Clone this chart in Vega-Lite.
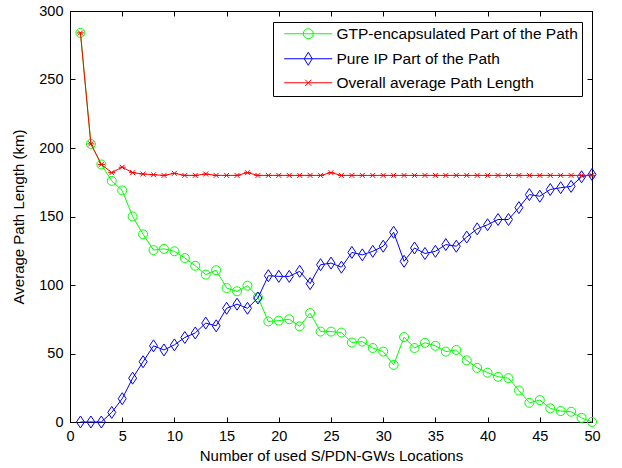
{
  "$schema": "https://vega.github.io/schema/vega-lite/v6.json",
  "width": 522,
  "height": 411,
  "autosize": {"type": "none"},
  "padding": {"left": 70, "top": 11, "right": 30, "bottom": 46},
  "background": "white",
  "config": {
    "view": {"stroke": "black", "strokeWidth": 1},
    "font": "Liberation Sans",
    "axis": {
      "grid": false, "domainColor": "black", "tickColor": "black", "labelColor": "black", "titleColor": "black",
      "labelFontSize": 14.5, "titleFontSize": 15, "titleFontWeight": "normal", "tickSize": -5, "labelPadding": 12,
      "labelFont": "Liberation Sans", "titleFont": "Liberation Sans", "labelFlush": false
    }
  },
  "datasets": {
    "d": [
      {"x":1,"s":"GTP-encapsulated Part of the Path","v":284},
      {"x":2,"s":"GTP-encapsulated Part of the Path","v":203},
      {"x":3,"s":"GTP-encapsulated Part of the Path","v":188},
      {"x":4,"s":"GTP-encapsulated Part of the Path","v":176},
      {"x":5,"s":"GTP-encapsulated Part of the Path","v":169},
      {"x":6,"s":"GTP-encapsulated Part of the Path","v":150},
      {"x":7,"s":"GTP-encapsulated Part of the Path","v":137},
      {"x":8,"s":"GTP-encapsulated Part of the Path","v":125.5},
      {"x":9,"s":"GTP-encapsulated Part of the Path","v":126.4},
      {"x":10,"s":"GTP-encapsulated Part of the Path","v":124.6},
      {"x":11,"s":"GTP-encapsulated Part of the Path","v":119.7},
      {"x":12,"s":"GTP-encapsulated Part of the Path","v":114},
      {"x":13,"s":"GTP-encapsulated Part of the Path","v":107.6},
      {"x":14,"s":"GTP-encapsulated Part of the Path","v":110.8},
      {"x":15,"s":"GTP-encapsulated Part of the Path","v":97.8},
      {"x":16,"s":"GTP-encapsulated Part of the Path","v":95.4},
      {"x":17,"s":"GTP-encapsulated Part of the Path","v":99.5},
      {"x":18,"s":"GTP-encapsulated Part of the Path","v":91},
      {"x":19,"s":"GTP-encapsulated Part of the Path","v":73.4},
      {"x":20,"s":"GTP-encapsulated Part of the Path","v":74},
      {"x":21,"s":"GTP-encapsulated Part of the Path","v":75},
      {"x":22,"s":"GTP-encapsulated Part of the Path","v":69.8},
      {"x":23,"s":"GTP-encapsulated Part of the Path","v":79.5},
      {"x":24,"s":"GTP-encapsulated Part of the Path","v":66},
      {"x":25,"s":"GTP-encapsulated Part of the Path","v":66},
      {"x":26,"s":"GTP-encapsulated Part of the Path","v":65.3},
      {"x":27,"s":"GTP-encapsulated Part of the Path","v":58},
      {"x":28,"s":"GTP-encapsulated Part of the Path","v":58.7},
      {"x":29,"s":"GTP-encapsulated Part of the Path","v":54},
      {"x":30,"s":"GTP-encapsulated Part of the Path","v":51.4},
      {"x":31,"s":"GTP-encapsulated Part of the Path","v":41.7},
      {"x":32,"s":"GTP-encapsulated Part of the Path","v":62},
      {"x":33,"s":"GTP-encapsulated Part of the Path","v":54},
      {"x":34,"s":"GTP-encapsulated Part of the Path","v":57.8},
      {"x":35,"s":"GTP-encapsulated Part of the Path","v":55.6},
      {"x":36,"s":"GTP-encapsulated Part of the Path","v":51.4},
      {"x":37,"s":"GTP-encapsulated Part of the Path","v":52.6},
      {"x":38,"s":"GTP-encapsulated Part of the Path","v":45},
      {"x":39,"s":"GTP-encapsulated Part of the Path","v":39.5},
      {"x":40,"s":"GTP-encapsulated Part of the Path","v":36},
      {"x":41,"s":"GTP-encapsulated Part of the Path","v":33},
      {"x":42,"s":"GTP-encapsulated Part of the Path","v":32},
      {"x":43,"s":"GTP-encapsulated Part of the Path","v":23},
      {"x":44,"s":"GTP-encapsulated Part of the Path","v":14},
      {"x":45,"s":"GTP-encapsulated Part of the Path","v":16},
      {"x":46,"s":"GTP-encapsulated Part of the Path","v":10},
      {"x":47,"s":"GTP-encapsulated Part of the Path","v":8},
      {"x":48,"s":"GTP-encapsulated Part of the Path","v":7.5},
      {"x":49,"s":"GTP-encapsulated Part of the Path","v":3},
      {"x":50,"s":"GTP-encapsulated Part of the Path","v":0},
      {"x":1,"s":"Pure IP Part of the Path","v":0},
      {"x":2,"s":"Pure IP Part of the Path","v":0},
      {"x":3,"s":"Pure IP Part of the Path","v":0},
      {"x":4,"s":"Pure IP Part of the Path","v":7},
      {"x":5,"s":"Pure IP Part of the Path","v":17},
      {"x":6,"s":"Pure IP Part of the Path","v":32},
      {"x":7,"s":"Pure IP Part of the Path","v":44},
      {"x":8,"s":"Pure IP Part of the Path","v":55.6},
      {"x":9,"s":"Pure IP Part of the Path","v":52.6},
      {"x":10,"s":"Pure IP Part of the Path","v":56.3},
      {"x":11,"s":"Pure IP Part of the Path","v":61.7},
      {"x":12,"s":"Pure IP Part of the Path","v":65},
      {"x":13,"s":"Pure IP Part of the Path","v":72.2},
      {"x":14,"s":"Pure IP Part of the Path","v":70.2},
      {"x":15,"s":"Pure IP Part of the Path","v":83},
      {"x":16,"s":"Pure IP Part of the Path","v":86},
      {"x":17,"s":"Pure IP Part of the Path","v":83},
      {"x":18,"s":"Pure IP Part of the Path","v":90.5},
      {"x":19,"s":"Pure IP Part of the Path","v":106.8},
      {"x":20,"s":"Pure IP Part of the Path","v":106.3},
      {"x":21,"s":"Pure IP Part of the Path","v":106.3},
      {"x":22,"s":"Pure IP Part of the Path","v":110},
      {"x":23,"s":"Pure IP Part of the Path","v":101},
      {"x":24,"s":"Pure IP Part of the Path","v":114.8},
      {"x":25,"s":"Pure IP Part of the Path","v":116},
      {"x":26,"s":"Pure IP Part of the Path","v":113},
      {"x":27,"s":"Pure IP Part of the Path","v":123.8},
      {"x":28,"s":"Pure IP Part of the Path","v":122},
      {"x":29,"s":"Pure IP Part of the Path","v":124.6},
      {"x":30,"s":"Pure IP Part of the Path","v":128.3},
      {"x":31,"s":"Pure IP Part of the Path","v":138.5},
      {"x":32,"s":"Pure IP Part of the Path","v":117.3},
      {"x":33,"s":"Pure IP Part of the Path","v":127},
      {"x":34,"s":"Pure IP Part of the Path","v":123},
      {"x":35,"s":"Pure IP Part of the Path","v":124.6},
      {"x":36,"s":"Pure IP Part of the Path","v":129.5},
      {"x":37,"s":"Pure IP Part of the Path","v":128.3},
      {"x":38,"s":"Pure IP Part of the Path","v":135},
      {"x":39,"s":"Pure IP Part of the Path","v":141},
      {"x":40,"s":"Pure IP Part of the Path","v":144},
      {"x":41,"s":"Pure IP Part of the Path","v":147.8},
      {"x":42,"s":"Pure IP Part of the Path","v":147.8},
      {"x":43,"s":"Pure IP Part of the Path","v":156.5},
      {"x":44,"s":"Pure IP Part of the Path","v":166},
      {"x":45,"s":"Pure IP Part of the Path","v":164.8},
      {"x":46,"s":"Pure IP Part of the Path","v":169.7},
      {"x":47,"s":"Pure IP Part of the Path","v":171},
      {"x":48,"s":"Pure IP Part of the Path","v":172},
      {"x":49,"s":"Pure IP Part of the Path","v":179},
      {"x":50,"s":"Pure IP Part of the Path","v":180.7},
      {"x":1,"s":"Overall average Path Length","v":284},
      {"x":2,"s":"Overall average Path Length","v":203},
      {"x":3,"s":"Overall average Path Length","v":188},
      {"x":4,"s":"Overall average Path Length","v":182},
      {"x":5,"s":"Overall average Path Length","v":186},
      {"x":6,"s":"Overall average Path Length","v":182},
      {"x":7,"s":"Overall average Path Length","v":181},
      {"x":8,"s":"Overall average Path Length","v":180.5},
      {"x":9,"s":"Overall average Path Length","v":180},
      {"x":10,"s":"Overall average Path Length","v":181.5},
      {"x":11,"s":"Overall average Path Length","v":180},
      {"x":12,"s":"Overall average Path Length","v":180},
      {"x":13,"s":"Overall average Path Length","v":181},
      {"x":14,"s":"Overall average Path Length","v":180},
      {"x":15,"s":"Overall average Path Length","v":180},
      {"x":16,"s":"Overall average Path Length","v":180},
      {"x":17,"s":"Overall average Path Length","v":182},
      {"x":18,"s":"Overall average Path Length","v":180},
      {"x":19,"s":"Overall average Path Length","v":180},
      {"x":20,"s":"Overall average Path Length","v":180},
      {"x":21,"s":"Overall average Path Length","v":180},
      {"x":22,"s":"Overall average Path Length","v":180},
      {"x":23,"s":"Overall average Path Length","v":180},
      {"x":24,"s":"Overall average Path Length","v":180},
      {"x":25,"s":"Overall average Path Length","v":182},
      {"x":26,"s":"Overall average Path Length","v":180},
      {"x":27,"s":"Overall average Path Length","v":180},
      {"x":28,"s":"Overall average Path Length","v":180},
      {"x":29,"s":"Overall average Path Length","v":180},
      {"x":30,"s":"Overall average Path Length","v":180},
      {"x":31,"s":"Overall average Path Length","v":180},
      {"x":32,"s":"Overall average Path Length","v":180},
      {"x":33,"s":"Overall average Path Length","v":180},
      {"x":34,"s":"Overall average Path Length","v":180},
      {"x":35,"s":"Overall average Path Length","v":180},
      {"x":36,"s":"Overall average Path Length","v":180},
      {"x":37,"s":"Overall average Path Length","v":180},
      {"x":38,"s":"Overall average Path Length","v":180},
      {"x":39,"s":"Overall average Path Length","v":180},
      {"x":40,"s":"Overall average Path Length","v":180},
      {"x":41,"s":"Overall average Path Length","v":180},
      {"x":42,"s":"Overall average Path Length","v":180},
      {"x":43,"s":"Overall average Path Length","v":180},
      {"x":44,"s":"Overall average Path Length","v":180},
      {"x":45,"s":"Overall average Path Length","v":180},
      {"x":46,"s":"Overall average Path Length","v":180},
      {"x":47,"s":"Overall average Path Length","v":180},
      {"x":48,"s":"Overall average Path Length","v":180},
      {"x":49,"s":"Overall average Path Length","v":180},
      {"x":50,"s":"Overall average Path Length","v":180}
    ]
  },
  "data": {"name": "d"},
  "layer": [
    {
      "transform": [{"filter": {"field": "s", "equal": "GTP-encapsulated Part of the Path"}}],
      "mark": {"type": "line", "strokeWidth": 1, "color": "#00ff00"},
      "encoding": {
        "x": {"field": "x", "type": "quantitative", "scale": {"domain": [0, 50], "nice": false},
              "axis": {"orient": "bottom", "values": [0,5,10,15,20,25,30,35,40,45,50], "title": "Number of used S/PDN-GWs Locations", "titlePadding": 6}},
        "y": {"field": "v", "type": "quantitative", "scale": {"domain": [0, 300], "nice": false},
              "axis": {"orient": "left", "values": [0,50,100,150,200,250,300], "title": "Average Path Length (km)", "titlePadding": 12}}
      }
    },
    {
      "transform": [{"filter": {"field": "s", "equal": "GTP-encapsulated Part of the Path"}}],
      "mark": {"type": "point", "filled": false, "size": 100, "strokeWidth": 1, "opacity": 1, "color": "#00ff00", "shape": "M-0.9,0A0.9,0.9 0 1,1 0.9,0A0.9,0.9 0 1,1 -0.9,0Z"},
      "encoding": {
        "x": {"field": "x", "type": "quantitative",
              "axis": {"orient": "top", "values": [0,5,10,15,20,25,30,35,40,45,50], "labels": false, "title": null, "domain": false}},
        "y": {"field": "v", "type": "quantitative",
              "axis": {"orient": "right", "values": [0,50,100,150,200,250,300], "labels": false, "title": null, "domain": false}}
      }
    },
    {
      "transform": [{"filter": {"field": "s", "equal": "Pure IP Part of the Path"}}],
      "mark": {"type": "line", "strokeWidth": 1, "color": "#0000ff"},
      "encoding": {
        "x": {"field": "x", "type": "quantitative", "axis": null},
        "y": {"field": "v", "type": "quantitative", "axis": null}
      }
    },
    {
      "transform": [{"filter": {"field": "s", "equal": "Pure IP Part of the Path"}}],
      "mark": {"type": "point", "filled": false, "size": 100, "strokeWidth": 1, "opacity": 1, "color": "#0000ff", "shape": "M0,-1.2L0.8,0L0,1.2L-0.8,0Z"},
      "encoding": {
        "x": {"field": "x", "type": "quantitative", "axis": null},
        "y": {"field": "v", "type": "quantitative", "axis": null}
      }
    },
    {
      "transform": [{"filter": {"field": "s", "equal": "Overall average Path Length"}}],
      "mark": {"type": "line", "strokeWidth": 1, "color": "#ff0000"},
      "encoding": {
        "x": {"field": "x", "type": "quantitative", "axis": null},
        "y": {"field": "v", "type": "quantitative", "axis": null}
      }
    },
    {
      "transform": [{"filter": {"field": "s", "equal": "Overall average Path Length"}}],
      "mark": {"type": "point", "filled": false, "size": 100, "strokeWidth": 1, "opacity": 1, "color": "#ff0000", "shape": "M-0.7,0H0.7M-0.5,-0.5L0.5,0.5M-0.5,0.5L0.5,-0.5"},
      "encoding": {
        "x": {"field": "x", "type": "quantitative", "axis": null},
        "y": {"field": "v", "type": "quantitative", "axis": null}
      }
    },
    {
      "transform": [{"filter": "datum.x < 0"}],
      "mark": {"type": "point", "filled": false, "strokeWidth": 1, "opacity": 1},
      "encoding": {
        "x": {"field": "x", "type": "quantitative", "axis": null},
        "y": {"field": "v", "type": "quantitative", "axis": null},
        "color": {
          "field": "s", "type": "nominal",
          "scale": {"domain": ["GTP-encapsulated Part of the Path", "Pure IP Part of the Path", "Overall average Path Length"], "range": ["#00ff00", "#0000ff", "#ff0000"]},
          "legend": {
            "title": null, "orient": "none", "legendX": 203, "legendY": 11, "direction": "vertical",
            "padding": 4, "strokeColor": "black", "fillColor": "white",
            "labelFontSize": 15.5, "labelFont": "Liberation Sans", "labelColor": "black", "labelLimit": 400,
            "symbolSize": 100, "symbolStrokeWidth": 1, "labelOffset": 44, "rowPadding": 7
          }
        },
        "shape": {
          "field": "s", "type": "nominal",
          "scale": {"domain": ["GTP-encapsulated Part of the Path", "Pure IP Part of the Path", "Overall average Path Length"],
                    "range": ["M-0.1,0H9.5M3.7,0A1,1 0 1,1 5.7,0A1,1 0 1,1 3.7,0", "M-0.1,0H9.5M4.7,-1.3L5.5,0L4.7,1.3L3.9,0Z", "M-0.1,0H9.5M4.1,-0.6L5.3,0.6M4.1,0.6L5.3,-0.6"]}
        }
      }
    }
  ],
  "resolve": {"axis": {"x": "independent", "y": "independent"}}
}
